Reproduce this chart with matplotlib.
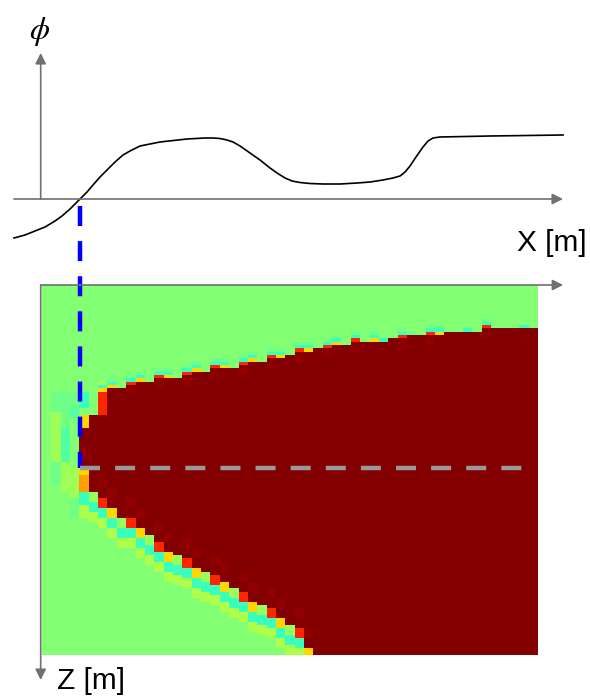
import numpy as np
import matplotlib.pyplot as plt

plt.rcParams['font.family'] = ['Liberation Sans', 'DejaVu Sans']
plt.rcParams['mathtext.fontset'] = 'stix'

# top panel: phi(x) profile, x in grid columns, phi in arbitrary units
curve_x = [-3.00, -1.82, -0.75, 0.32, 1.39, 2.14, 3.00, 3.64, 4.07, 4.82,
           5.46, 6.21, 6.96, 7.82, 8.67, 9.42, 10.49, 11.56, 12.63, 15.52,
           17.45, 18.31, 19.06, 19.81, 20.45, 21.20, 22.27, 23.34, 24.41, 25.16,
           26.02, 26.77, 27.62, 28.69, 30.09, 31.91, 33.73, 35.12, 36.51, 37.58,
           38.33, 38.87, 39.40, 40.04, 40.79, 41.33, 41.86, 42.61, 47.97, 55.78]
curve_phi = [-3.9, -3.6, -3.2, -2.8, -2.2, -1.7, -1.0, -0.4, 0.0, 0.7,
             1.4, 2.2, 2.9, 3.7, 4.4, 4.8, 5.3, 5.5, 5.7, 6.0,
             6.1, 6.1, 6.05, 5.9, 5.7, 5.3, 4.6, 3.9, 3.1, 2.6,
             2.1, 1.8, 1.65, 1.55, 1.5, 1.5, 1.6, 1.7, 1.9, 2.1,
             2.3, 2.7, 3.3, 4.2, 5.2, 5.8, 6.1, 6.2, 6.3, 6.4]

# bottom panel: section grid (columns x rows)
nx, nz = 53, 111
first_col = 4
# first / last+1 row of the dark red body, for columns 4..52
top_row = [39, 39, 32, 31, 31, 30, 29, 29, 28, 28,
           28, 27, 26, 26, 25, 25, 25, 24, 23, 23,
           22, 22, 21, 20, 20, 19, 19, 18, 18, 17,
           17, 17, 17, 16, 16, 15, 15, 15, 15, 14,
           14, 14, 14, 13, 13, 13, 13, 13, 13]
bottom_row = [55, 62, 64, 67, 70, 70, 73, 75, 77, 80,
              81, 82, 85, 86, 87, 89, 91, 92, 95, 96,
              97, 100, 102, 103, 109] + [111] * 24

# colour codes of the edge cells, one char per column 0..52
top_edge = "......" + "yy." + "ry." * 8 + "r.yc.rl.ry..c.r...c."
bot_edge = "....o." + "ry." * 7 + "ry" + "." * 24

# extra tinted cells: (column, first row, last row + 1, code)
patches = [(1, 32, 38, 'l'), (1, 38, 43, 'h'), (1, 43, 53, 'h'), (1, 53, 60, 'l'),
           (2, 32, 38, 'l'), (2, 38, 43, 'l'), (2, 43, 53, 'm'), (2, 53, 62, 'h'),
           (3, 32, 37, 'l'), (3, 37, 40, 'm'), (3, 55, 64, 'h'), (3, 64, 70, 'l'),
           (4, 32, 37, 'c'), (4, 39, 43, 'y'), (4, 55, 57, 'y'), (4, 57, 62, 'o'),
           (4, 62, 66, 'c'), (4, 66, 70, 'g'),
           (6, 29, 30, 'g'), (6, 32, 39, 'r'), (7, 29, 30, 'c')]

GREEN = 0.51
DARK = 0.995
codes = {'r': 0.87, 'y': 0.68, 'o': 0.74, 'c': 0.42, 'l': 0.485,
         'm': 0.45, 'g': 0.56, 'h': 0.545, 'k': 0.535, 'd': 0.982}

field = np.full((nz, nx), GREEN)
for i, (t, b) in enumerate(zip(top_row, bottom_row)):
    col = first_col + i
    field[t:b, col] = DARK
    e = top_edge[col]
    if e != '.':
        field[t - 1, col] = codes[e]
        if e in 'ry':
            field[t - 2, col] = codes['c']
            field[t - 3, col] = codes['l']
        if e == 'r':
            field[t + 1:t + 3, col] = codes['d']
    if b < nz:
        eb = bot_edge[col]
        if eb != '.':
            field[b:b + 3, col] = codes[eb]
            field[max(t, b - 6):b - 3, col] = codes['d']
        else:
            field[b:b + 3, col] = codes['k']
        field[b + 3:b + 6, col] = codes['c']
        field[b + 6:b + 9, col] = codes['g']
for col, r0, r1, c in patches:
    field[r0:r1, col] = codes[c]

fig = plt.figure(figsize=(5.9, 6.96), dpi=100)
ax1 = fig.add_axes([0, 1 - 270 / 696, 1, 270 / 696])
ax2 = fig.add_axes([0, 0, 1, 426 / 696])
xlim = (-4.497, 58.67)

axis_kw = dict(arrowstyle='-|>', color='#707070', lw=1.2,
               mutation_scale=16, shrinkA=0, shrinkB=0)

# --- top: phi profile
ax1.plot(curve_x, curve_phi, color='black', lw=1.2)
ax1.annotate('', xy=(55.78, 0), xytext=(-3.0, 0), arrowprops=axis_kw,
             annotation_clip=False)
ax1.annotate('', xy=(-0.14, 14.6), xytext=(-0.14, 0), arrowprops=axis_kw,
             annotation_clip=False)
ax1.text(-0.3, 16.7, r'$\phi$', fontsize=23, ha='center', va='center')
ax1.text(58.3, -4.4, 'X [m]', fontsize=21.5, ha='right', va='center')
ax1.set_xlim(*xlim)
ax1.set_ylim(-7.1, 19.9)
ax1.axis('off')

# --- bottom: section
ax2.imshow(field, cmap='jet', vmin=0, vmax=1, extent=(0, nx, nz, 0),
           aspect='auto', interpolation='nearest', zorder=0)
x0 = np.interp(0, curve_phi[:12], curve_x[:12])
z0 = bottom_row[int(x0) - first_col]
ax2.plot([x0, x0], [-23.7, z0], color='#0000ff', lw=3.2, dashes=(4.5, 3.4),
         clip_on=False, zorder=3)
ax2.plot([x0, nx - 1.1], [z0, z0], color='#999999', lw=3.2, dashes=(4.5, 3.4),
         zorder=4)
ax2.annotate('', xy=(55.8, 0), xytext=(-0.14, 0), arrowprops=axis_kw,
             annotation_clip=False, zorder=5)
ax2.annotate('', xy=(-0.14, 118.5), xytext=(-0.14, 0), arrowprops=axis_kw,
             annotation_clip=False, zorder=5)
ax2.text(1.6, 118.8, 'Z [m]', fontsize=21.5, ha='left', va='center')
ax2.set_xlim(*xlim)
ax2.set_ylim(123.3, -4.5)
ax2.axis('off')

fig.savefig('out.png', dpi=100)
